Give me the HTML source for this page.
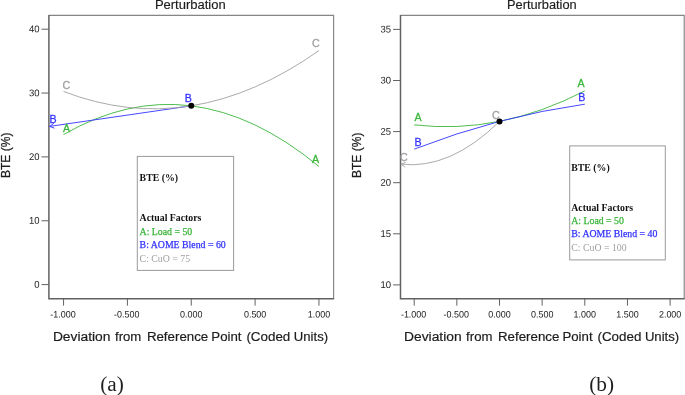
<!DOCTYPE html>
<html lang="en"><head><meta charset="utf-8"><title>Perturbation plots</title>
<style>html,body{margin:0;padding:0;background:#fff}svg{display:block}</style></head>
<body>
<svg width="685" height="395" viewBox="0 0 685 395" font-family='"Liberation Sans", "DejaVu Sans", sans-serif'>
<rect width="685" height="395" fill="#fff"/>
<path d="M48.9 15.4 H333.6 V298.65" fill="none" stroke="#858585" stroke-width="1.15"/>
<path d="M48.9 14.9 V298.65 H334.1" fill="none" stroke="#626262" stroke-width="1.5"/>
<path d="M41.50 284.60 H48.9" stroke="#626262" stroke-width="1"/>
<text transform="translate(39.50 287.70) rotate(0.03) scale(0.97 1)" text-anchor="end" font-size="9.8" fill="#1c1c1c">0</text>
<path d="M41.50 220.75 H48.9" stroke="#626262" stroke-width="1"/>
<text transform="translate(39.50 223.85) rotate(0.03) scale(0.97 1)" text-anchor="end" font-size="9.8" fill="#1c1c1c">10</text>
<path d="M41.50 156.90 H48.9" stroke="#626262" stroke-width="1"/>
<text transform="translate(39.50 160.00) rotate(0.03) scale(0.97 1)" text-anchor="end" font-size="9.8" fill="#1c1c1c">20</text>
<path d="M41.50 93.05 H48.9" stroke="#626262" stroke-width="1"/>
<text transform="translate(39.50 96.15) rotate(0.03) scale(0.97 1)" text-anchor="end" font-size="9.8" fill="#1c1c1c">30</text>
<path d="M41.50 29.20 H48.9" stroke="#626262" stroke-width="1"/>
<text transform="translate(39.50 32.30) rotate(0.03) scale(0.97 1)" text-anchor="end" font-size="9.8" fill="#1c1c1c">40</text>
<path d="M63.55 298.65 V305.65" stroke="#626262" stroke-width="1"/>
<text transform="translate(62.95 317.6) rotate(0.03)" text-anchor="middle" font-size="9.3" textLength="25.4" lengthAdjust="spacingAndGlyphs" fill="#1c1c1c">-1.000</text>
<path d="M127.40 298.65 V305.65" stroke="#626262" stroke-width="1"/>
<text transform="translate(126.80 317.6) rotate(0.03)" text-anchor="middle" font-size="9.3" textLength="25.4" lengthAdjust="spacingAndGlyphs" fill="#1c1c1c">-0.500</text>
<path d="M191.25 298.65 V305.65" stroke="#626262" stroke-width="1"/>
<text transform="translate(191.25 317.6) rotate(0.03)" text-anchor="middle" font-size="9.3" textLength="22.4" lengthAdjust="spacingAndGlyphs" fill="#1c1c1c">0.000</text>
<path d="M255.10 298.65 V305.65" stroke="#626262" stroke-width="1"/>
<text transform="translate(255.10 317.6) rotate(0.03)" text-anchor="middle" font-size="9.3" textLength="22.4" lengthAdjust="spacingAndGlyphs" fill="#1c1c1c">0.500</text>
<path d="M318.95 298.65 V305.65" stroke="#626262" stroke-width="1"/>
<text transform="translate(318.95 317.6) rotate(0.03)" text-anchor="middle" font-size="9.3" textLength="22.4" lengthAdjust="spacingAndGlyphs" fill="#1c1c1c">1.000</text>
<text x="154.9" y="9.3" font-size="12" textLength="70.8" lengthAdjust="spacingAndGlyphs" fill="#1c1c1c" stroke="#1c1c1c" stroke-width="0.15">Perturbation</text>
<g font-size="13.7" fill="#1c1c1c" stroke="#1c1c1c" stroke-width="0.2">
<text x="52.90" y="340.9" textLength="57.60" lengthAdjust="spacingAndGlyphs">Deviation</text>
<text x="115.00" y="340.9" textLength="26.30" lengthAdjust="spacingAndGlyphs">from</text>
<text x="146.90" y="340.9" textLength="61.30" lengthAdjust="spacingAndGlyphs">Reference</text>
<text x="211.30" y="340.9" textLength="30.20" lengthAdjust="spacingAndGlyphs">Point</text>
<text x="246.40" y="340.9" textLength="43.90" lengthAdjust="spacingAndGlyphs">(Coded</text>
<text x="293.80" y="340.9" textLength="34.30" lengthAdjust="spacingAndGlyphs">Units)</text>
</g>
<text transform="translate(10.0 178.0) rotate(-90)" font-size="12.8" textLength="45.4" lengthAdjust="spacingAndGlyphs" fill="#1c1c1c" stroke="#1c1c1c" stroke-width="0.25">BTE (%)</text>
<path d="M63.55 134.55 Q191.25 61.13 318.95 166.48" fill="none" stroke="#3ab63a" stroke-width="0.9"/>
<path d="M49.6 126.4 L191.25 105.82" fill="none" stroke="#3232ff" stroke-width="0.9"/>
<path d="M53.79 123.32 L49.60 126.40 M54.49 128.16 L49.60 126.40" fill="none" stroke="#3232ff" stroke-width="0.9"/>
<path d="M63.55 91.45 Q191.25 140.62 318.95 50.59" fill="none" stroke="#a0a0a0" stroke-width="0.9"/>
<circle cx="191.25" cy="105.82" r="3" fill="#000"/>
<text transform="translate(312.0 46.8) scale(0.92 1)" font-size="11.6" fill="#a0a0a0" stroke="#a0a0a0" stroke-width="0.3">C</text>
<text transform="translate(62.6 89.1) scale(0.92 1)" font-size="11.6" fill="#a0a0a0" stroke="#a0a0a0" stroke-width="0.3">C</text>
<text transform="translate(62.9 132.1) scale(0.92 1)" font-size="11.6" fill="#3ab63a" stroke="#3ab63a" stroke-width="0.3">A</text>
<text transform="translate(311.9 163.0) scale(0.92 1)" font-size="11.6" fill="#3ab63a" stroke="#3ab63a" stroke-width="0.3">A</text>
<text transform="translate(49.6 123.4) scale(0.92 1)" font-size="11.6" fill="#3232ff" stroke="#3232ff" stroke-width="0.3">B</text>
<text transform="translate(184.8 102.3) scale(0.92 1)" font-size="11.6" fill="#3232ff" stroke="#3232ff" stroke-width="0.3">B</text>
<rect x="137.3" y="156.4" width="96.3" height="114.0" fill="#fff" stroke="#9a9a9a" stroke-width="1"/>
<g font-family='"Liberation Serif", "DejaVu Serif", serif' font-size="9.8">
<text x="139.60000000000002" y="181.4" font-weight="bold" fill="#111">BTE (%)</text>
<text x="139.60000000000002" y="220.9" font-weight="bold" fill="#111">Actual Factors</text>
<text x="139.60000000000002" y="235.0" fill="#3ab63a" stroke="#3ab63a" stroke-width="0.25">A: Load = 50</text>
<text x="139.60000000000002" y="247.9" fill="#3232ff" stroke="#3232ff" stroke-width="0.25">B: AOME Blend = 60</text>
<text x="139.60000000000002" y="262.3" fill="#a0a0a0">C: CuO = 75</text>
</g>
<text x="100.2" y="390.8" font-family='"Liberation Serif", "DejaVu Serif", serif' font-size="21.3" fill="#1e1e1e">(a)</text>
<path d="M400.5 15.4 H684.2 V298.65" fill="none" stroke="#858585" stroke-width="1.15"/>
<path d="M400.5 14.9 V298.65 H684.7" fill="none" stroke="#626262" stroke-width="1.5"/>
<path d="M393.10 284.90 H400.5" stroke="#626262" stroke-width="1"/>
<text transform="translate(391.10 288.00) rotate(0.03) scale(0.97 1)" text-anchor="end" font-size="9.8" fill="#1c1c1c">10</text>
<path d="M393.10 233.80 H400.5" stroke="#626262" stroke-width="1"/>
<text transform="translate(391.10 236.90) rotate(0.03) scale(0.97 1)" text-anchor="end" font-size="9.8" fill="#1c1c1c">15</text>
<path d="M393.10 182.70 H400.5" stroke="#626262" stroke-width="1"/>
<text transform="translate(391.10 185.80) rotate(0.03) scale(0.97 1)" text-anchor="end" font-size="9.8" fill="#1c1c1c">20</text>
<path d="M393.10 131.60 H400.5" stroke="#626262" stroke-width="1"/>
<text transform="translate(391.10 134.70) rotate(0.03) scale(0.97 1)" text-anchor="end" font-size="9.8" fill="#1c1c1c">25</text>
<path d="M393.10 80.50 H400.5" stroke="#626262" stroke-width="1"/>
<text transform="translate(391.10 83.60) rotate(0.03) scale(0.97 1)" text-anchor="end" font-size="9.8" fill="#1c1c1c">30</text>
<path d="M393.10 29.40 H400.5" stroke="#626262" stroke-width="1"/>
<text transform="translate(391.10 32.50) rotate(0.03) scale(0.97 1)" text-anchor="end" font-size="9.8" fill="#1c1c1c">35</text>
<path d="M414.20 298.65 V305.65" stroke="#626262" stroke-width="1"/>
<text transform="translate(413.60 317.6) rotate(0.03)" text-anchor="middle" font-size="9.3" textLength="25.4" lengthAdjust="spacingAndGlyphs" fill="#1c1c1c">-1.000</text>
<path d="M456.85 298.65 V305.65" stroke="#626262" stroke-width="1"/>
<text transform="translate(456.25 317.6) rotate(0.03)" text-anchor="middle" font-size="9.3" textLength="25.4" lengthAdjust="spacingAndGlyphs" fill="#1c1c1c">-0.500</text>
<path d="M499.50 298.65 V305.65" stroke="#626262" stroke-width="1"/>
<text transform="translate(499.50 317.6) rotate(0.03)" text-anchor="middle" font-size="9.3" textLength="22.4" lengthAdjust="spacingAndGlyphs" fill="#1c1c1c">0.000</text>
<path d="M542.15 298.65 V305.65" stroke="#626262" stroke-width="1"/>
<text transform="translate(542.15 317.6) rotate(0.03)" text-anchor="middle" font-size="9.3" textLength="22.4" lengthAdjust="spacingAndGlyphs" fill="#1c1c1c">0.500</text>
<path d="M584.80 298.65 V305.65" stroke="#626262" stroke-width="1"/>
<text transform="translate(584.80 317.6) rotate(0.03)" text-anchor="middle" font-size="9.3" textLength="22.4" lengthAdjust="spacingAndGlyphs" fill="#1c1c1c">1.000</text>
<path d="M627.45 298.65 V305.65" stroke="#626262" stroke-width="1"/>
<text transform="translate(627.45 317.6) rotate(0.03)" text-anchor="middle" font-size="9.3" textLength="22.4" lengthAdjust="spacingAndGlyphs" fill="#1c1c1c">1.500</text>
<path d="M670.10 298.65 V305.65" stroke="#626262" stroke-width="1"/>
<text transform="translate(670.10 317.6) rotate(0.03)" text-anchor="middle" font-size="9.3" textLength="22.4" lengthAdjust="spacingAndGlyphs" fill="#1c1c1c">2.000</text>
<text x="507.0" y="9.3" font-size="12" textLength="69.69999999999999" lengthAdjust="spacingAndGlyphs" fill="#1c1c1c" stroke="#1c1c1c" stroke-width="0.15">Perturbation</text>
<g font-size="13.7" fill="#1c1c1c" stroke="#1c1c1c" stroke-width="0.2">
<text x="404.00" y="340.9" textLength="57.60" lengthAdjust="spacingAndGlyphs">Deviation</text>
<text x="466.10" y="340.9" textLength="26.30" lengthAdjust="spacingAndGlyphs">from</text>
<text x="498.00" y="340.9" textLength="61.30" lengthAdjust="spacingAndGlyphs">Reference</text>
<text x="562.40" y="340.9" textLength="30.20" lengthAdjust="spacingAndGlyphs">Point</text>
<text x="597.50" y="340.9" textLength="43.90" lengthAdjust="spacingAndGlyphs">(Coded</text>
<text x="644.90" y="340.9" textLength="34.30" lengthAdjust="spacingAndGlyphs">Units)</text>
</g>
<text transform="translate(361.3 178.0) rotate(-90)" font-size="12.8" textLength="45.4" lengthAdjust="spacingAndGlyphs" fill="#1c1c1c" stroke="#1c1c1c" stroke-width="0.25">BTE (%)</text>
<path d="M400.89 164.17 Q450.20 169.82 499.50 121.38" fill="none" stroke="#a0a0a0" stroke-width="0.9"/>
<path d="M405.73 162.27 L400.89 164.17 M405.18 167.12 L400.89 164.17" fill="none" stroke="#a0a0a0" stroke-width="0.9"/>
<path d="M414.20 124.85 Q499.50 134.87 584.80 90.92" fill="none" stroke="#3ab63a" stroke-width="0.9"/>
<path d="M414.20 149.13 Q499.50 116.12 584.80 104.16" fill="none" stroke="#3232ff" stroke-width="0.9"/>
<circle cx="499.50" cy="121.38" r="3" fill="#000"/>
<text transform="translate(414.4 120.7) scale(0.92 1)" font-size="11.6" fill="#3ab63a" stroke="#3ab63a" stroke-width="0.3">A</text>
<text transform="translate(414.4 146.1) scale(0.92 1)" font-size="11.6" fill="#3232ff" stroke="#3232ff" stroke-width="0.3">B</text>
<text transform="translate(492.0 118.8) scale(0.92 1)" font-size="11.6" fill="#a0a0a0" stroke="#a0a0a0" stroke-width="0.3">C</text>
<text transform="translate(400.0 161.0) scale(0.92 1)" font-size="11.6" fill="#a0a0a0" stroke="#a0a0a0" stroke-width="0.3">C</text>
<text transform="translate(577.5 87.4) scale(0.92 1)" font-size="11.6" fill="#3ab63a" stroke="#3ab63a" stroke-width="0.3">A</text>
<text transform="translate(578.2 101.0) scale(0.92 1)" font-size="11.6" fill="#3232ff" stroke="#3232ff" stroke-width="0.3">B</text>
<rect x="569.7" y="145.9" width="95.6" height="114.0" fill="#fff" stroke="#9a9a9a" stroke-width="1"/>
<g font-family='"Liberation Serif", "DejaVu Serif", serif' font-size="9.8">
<text x="571.3000000000001" y="170.9" font-weight="bold" fill="#111">BTE (%)</text>
<text x="571.3000000000001" y="211.0" font-weight="bold" fill="#111">Actual Factors</text>
<text x="571.3000000000001" y="223.8" fill="#3ab63a" stroke="#3ab63a" stroke-width="0.25">A: Load = 50</text>
<text x="571.3000000000001" y="237.4" fill="#3232ff" stroke="#3232ff" stroke-width="0.25">B: AOME Blend = 40</text>
<text x="571.3000000000001" y="250.9" fill="#a0a0a0">C: CuO = 100</text>
</g>
<text x="589.2" y="390.8" font-family='"Liberation Serif", "DejaVu Serif", serif' font-size="21.3" fill="#1e1e1e">(b)</text>
</svg>
</body></html>
